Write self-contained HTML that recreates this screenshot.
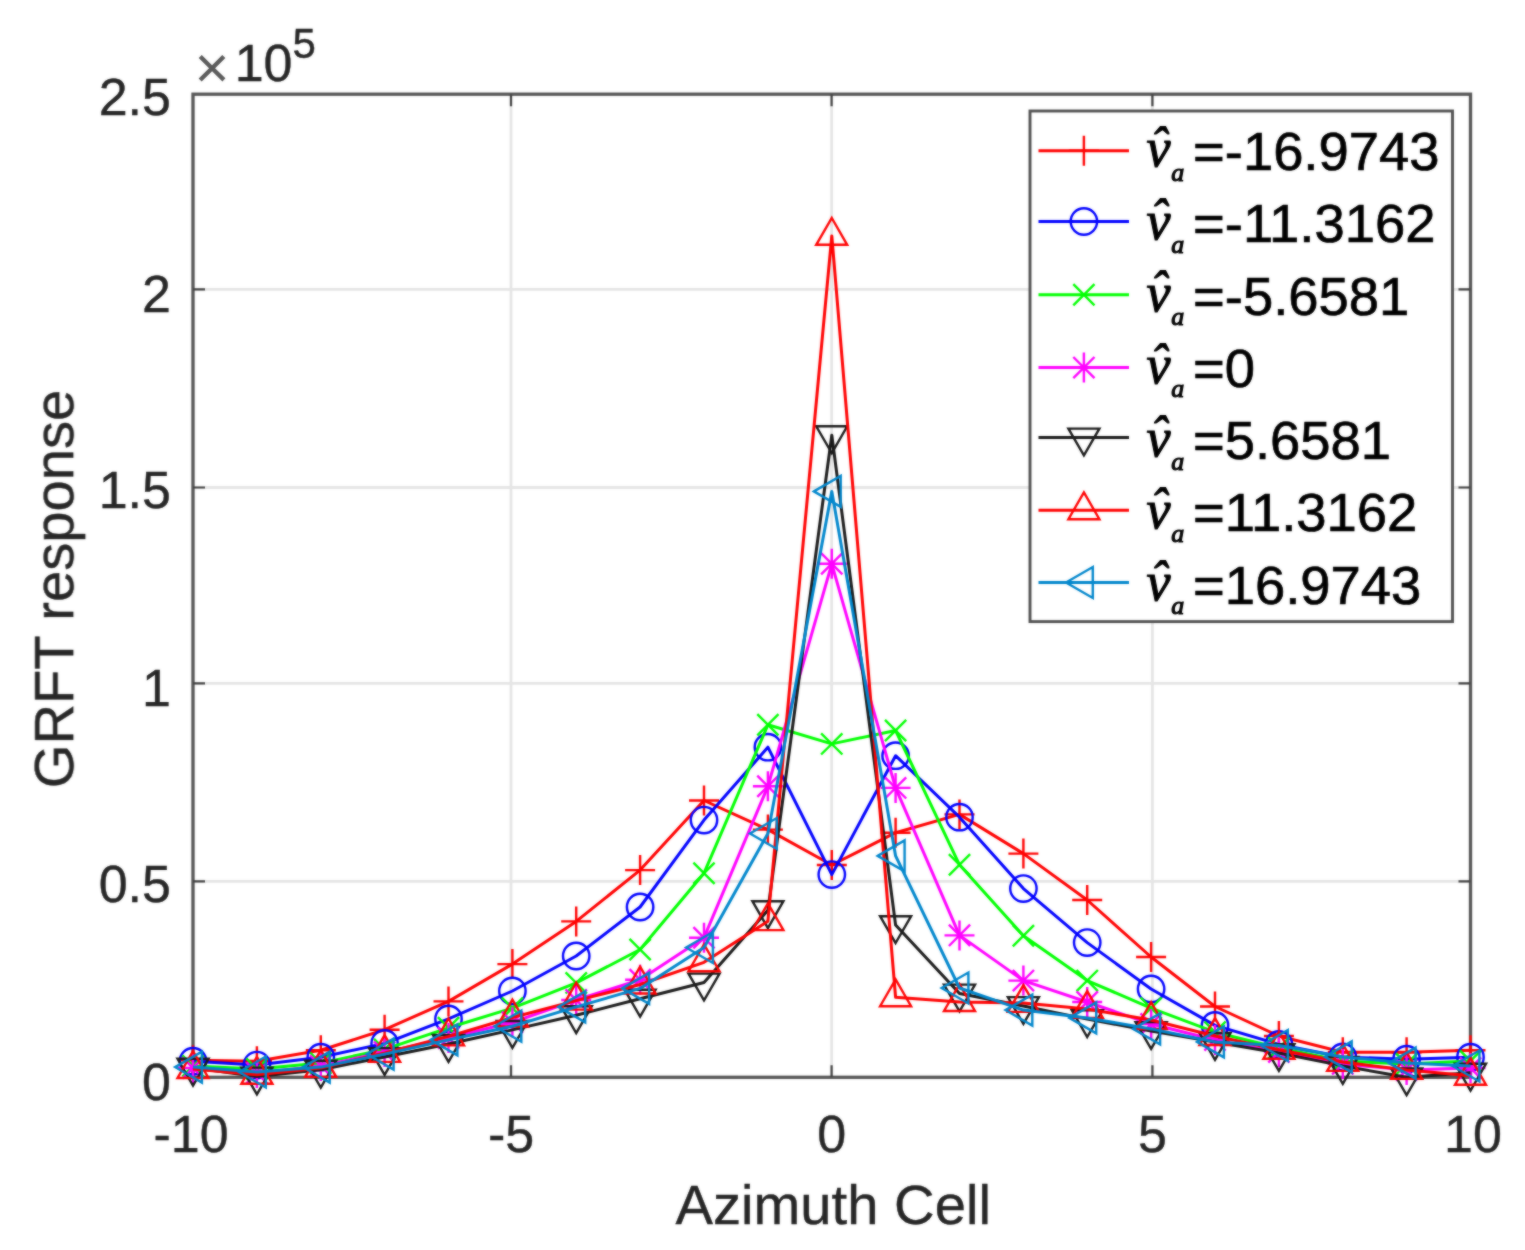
<!DOCTYPE html>
<html><head><meta charset="utf-8"><title>GRFT response</title>
<style>
html,body{margin:0;padding:0;background:#fff;}
body{width:1525px;height:1250px;overflow:hidden;}
svg{display:block;}
text{font-family:"Liberation Sans",Arial,sans-serif;}
.tk{font-size:52px;fill:#262626;stroke:#262626;stroke-width:0.4px;}
.lb{font-size:56.2px;fill:#262626;stroke:#262626;stroke-width:0.4px;}
.lg{font-size:54.4px;fill:#000;stroke:#000;stroke-width:0.7px;}
.mi{font-family:"Liberation Serif","Times New Roman",serif;font-style:italic;fill:#000;stroke:#000;stroke-width:1.1px;}
</style></head><body>
<svg width="1525" height="1250" viewBox="0 0 1525 1250">
<rect width="1525" height="1250" fill="#fff"/>
<defs><filter id="soft" color-interpolation-filters="sRGB" x="0" y="0" width="1525" height="1250" filterUnits="userSpaceOnUse"><feGaussianBlur stdDeviation="0.8" result="b"/><feComposite operator="arithmetic" in="SourceGraphic" in2="b" k1="0" k2="0.45" k3="0.55" k4="0"/></filter></defs>
<g filter="url(#soft)">

<path d="M511.0 94.2V1077.3M831.6 94.2V1077.3M1152.4 94.2V1077.3M193.0 289.3H1470.5M193.0 487.5H1470.5M193.0 683.3H1470.5M193.0 881.4H1470.5" stroke="#e5e5e5" stroke-width="2.8" fill="none"/>
<rect x="193.0" y="94.2" width="1277.5" height="983.0999999999999" fill="none" stroke="#555555" stroke-width="3.3"/>
<path d="M511.0 1077.3v-12M511.0 94.2v12M831.6 1077.3v-12M831.6 94.2v12M1152.4 1077.3v-12M1152.4 94.2v12M193.0 289.3h12M1470.5 289.3h-12M193.0 487.5h12M1470.5 487.5h-12M193.0 683.3h12M1470.5 683.3h-12M193.0 881.4h12M1470.5 881.4h-12" stroke="#404040" stroke-width="2.2" fill="none"/>
<polyline points="193.0,1060.2 256.9,1061.2 320.8,1050.3 384.6,1029.7 448.5,1001.4 512.4,964.1 576.2,921.4 640.1,870.1 704.0,800.5 767.9,829.6 831.8,865.0 895.6,832.7 959.5,814.4 1023.4,853.6 1087.2,900.0 1151.1,957.0 1215.0,1006.5 1278.9,1036.0 1342.8,1052.3 1406.6,1052.3 1470.5,1050.3" stroke="#ff0000" stroke-width="3.0" fill="none" stroke-linejoin="round"/>
<g><path d="M178.0 1060.2H208.0M193.0 1045.2V1075.2" stroke="#ff0000" stroke-width="2.4" fill="none"/><path d="M241.9 1061.2H271.9M256.9 1046.2V1076.2" stroke="#ff0000" stroke-width="2.4" fill="none"/><path d="M305.8 1050.3H335.8M320.8 1035.3V1065.3" stroke="#ff0000" stroke-width="2.4" fill="none"/><path d="M369.6 1029.7H399.6M384.6 1014.7V1044.7" stroke="#ff0000" stroke-width="2.4" fill="none"/><path d="M433.5 1001.4H463.5M448.5 986.4V1016.4" stroke="#ff0000" stroke-width="2.4" fill="none"/><path d="M497.4 964.1H527.4M512.4 949.1V979.1" stroke="#ff0000" stroke-width="2.4" fill="none"/><path d="M561.2 921.4H591.2M576.2 906.4V936.4" stroke="#ff0000" stroke-width="2.4" fill="none"/><path d="M625.1 870.1H655.1M640.1 855.1V885.1" stroke="#ff0000" stroke-width="2.4" fill="none"/><path d="M689.0 800.5H719.0M704.0 785.5V815.5" stroke="#ff0000" stroke-width="2.4" fill="none"/><path d="M752.9 829.6H782.9M767.9 814.6V844.6" stroke="#ff0000" stroke-width="2.4" fill="none"/><path d="M816.8 865.0H846.8M831.8 850.0V880.0" stroke="#ff0000" stroke-width="2.4" fill="none"/><path d="M880.6 832.7H910.6M895.6 817.7V847.7" stroke="#ff0000" stroke-width="2.4" fill="none"/><path d="M944.5 814.4H974.5M959.5 799.4V829.4" stroke="#ff0000" stroke-width="2.4" fill="none"/><path d="M1008.4 853.6H1038.4M1023.4 838.6V868.6" stroke="#ff0000" stroke-width="2.4" fill="none"/><path d="M1072.2 900.0H1102.2M1087.2 885.0V915.0" stroke="#ff0000" stroke-width="2.4" fill="none"/><path d="M1136.1 957.0H1166.1M1151.1 942.0V972.0" stroke="#ff0000" stroke-width="2.4" fill="none"/><path d="M1200.0 1006.5H1230.0M1215.0 991.5V1021.5" stroke="#ff0000" stroke-width="2.4" fill="none"/><path d="M1263.9 1036.0H1293.9M1278.9 1021.0V1051.0" stroke="#ff0000" stroke-width="2.4" fill="none"/><path d="M1327.8 1052.3H1357.8M1342.8 1037.3V1067.3" stroke="#ff0000" stroke-width="2.4" fill="none"/><path d="M1391.6 1052.3H1421.6M1406.6 1037.3V1067.3" stroke="#ff0000" stroke-width="2.4" fill="none"/><path d="M1455.5 1050.3H1485.5M1470.5 1035.3V1065.3" stroke="#ff0000" stroke-width="2.4" fill="none"/></g>
<polyline points="193.0,1061.2 256.9,1065.1 320.8,1057.2 384.6,1043.5 448.5,1018.9 512.4,991.0 576.2,956.0 640.1,907.0 704.0,820.1 767.9,747.2 831.8,874.6 895.6,755.7 959.5,817.2 1023.4,888.6 1087.2,942.6 1151.1,989.0 1215.0,1025.4 1278.9,1044.4 1342.8,1057.0 1406.6,1059.2 1470.5,1057.2" stroke="#0000ff" stroke-width="3.0" fill="none" stroke-linejoin="round"/>
<g><circle cx="193.0" cy="1061.2" r="13.2" stroke="#0000ff" stroke-width="2.4" fill="none"/><circle cx="256.9" cy="1065.1" r="13.2" stroke="#0000ff" stroke-width="2.4" fill="none"/><circle cx="320.8" cy="1057.2" r="13.2" stroke="#0000ff" stroke-width="2.4" fill="none"/><circle cx="384.6" cy="1043.5" r="13.2" stroke="#0000ff" stroke-width="2.4" fill="none"/><circle cx="448.5" cy="1018.9" r="13.2" stroke="#0000ff" stroke-width="2.4" fill="none"/><circle cx="512.4" cy="991.0" r="13.2" stroke="#0000ff" stroke-width="2.4" fill="none"/><circle cx="576.2" cy="956.0" r="13.2" stroke="#0000ff" stroke-width="2.4" fill="none"/><circle cx="640.1" cy="907.0" r="13.2" stroke="#0000ff" stroke-width="2.4" fill="none"/><circle cx="704.0" cy="820.1" r="13.2" stroke="#0000ff" stroke-width="2.4" fill="none"/><circle cx="767.9" cy="747.2" r="13.2" stroke="#0000ff" stroke-width="2.4" fill="none"/><circle cx="831.8" cy="874.6" r="13.2" stroke="#0000ff" stroke-width="2.4" fill="none"/><circle cx="895.6" cy="755.7" r="13.2" stroke="#0000ff" stroke-width="2.4" fill="none"/><circle cx="959.5" cy="817.2" r="13.2" stroke="#0000ff" stroke-width="2.4" fill="none"/><circle cx="1023.4" cy="888.6" r="13.2" stroke="#0000ff" stroke-width="2.4" fill="none"/><circle cx="1087.2" cy="942.6" r="13.2" stroke="#0000ff" stroke-width="2.4" fill="none"/><circle cx="1151.1" cy="989.0" r="13.2" stroke="#0000ff" stroke-width="2.4" fill="none"/><circle cx="1215.0" cy="1025.4" r="13.2" stroke="#0000ff" stroke-width="2.4" fill="none"/><circle cx="1278.9" cy="1044.4" r="13.2" stroke="#0000ff" stroke-width="2.4" fill="none"/><circle cx="1342.8" cy="1057.0" r="13.2" stroke="#0000ff" stroke-width="2.4" fill="none"/><circle cx="1406.6" cy="1059.2" r="13.2" stroke="#0000ff" stroke-width="2.4" fill="none"/><circle cx="1470.5" cy="1057.2" r="13.2" stroke="#0000ff" stroke-width="2.4" fill="none"/></g>
<polyline points="193.0,1066.0 256.9,1069.0 320.8,1063.1 384.6,1049.4 448.5,1027.8 512.4,1008.1 576.2,982.9 640.1,949.5 704.0,873.2 767.9,724.8 831.8,743.9 895.6,730.5 959.5,864.8 1023.4,935.7 1087.2,980.6 1151.1,1008.1 1215.0,1032.1 1278.9,1048.0 1342.8,1061.0 1406.6,1063.9 1470.5,1061.0" stroke="#00ff00" stroke-width="3.0" fill="none" stroke-linejoin="round"/>
<g><path d="M182.4 1055.4L203.6 1076.6M182.4 1076.6L203.6 1055.4" stroke="#00ff00" stroke-width="2.4" fill="none"/><path d="M246.3 1058.4L267.5 1079.6M246.3 1079.6L267.5 1058.4" stroke="#00ff00" stroke-width="2.4" fill="none"/><path d="M310.1 1052.5L331.4 1073.8M310.1 1073.8L331.4 1052.5" stroke="#00ff00" stroke-width="2.4" fill="none"/><path d="M374.0 1038.8L395.2 1060.0M374.0 1060.0L395.2 1038.8" stroke="#00ff00" stroke-width="2.4" fill="none"/><path d="M437.9 1017.2L459.1 1038.4M437.9 1038.4L459.1 1017.2" stroke="#00ff00" stroke-width="2.4" fill="none"/><path d="M501.8 997.5L523.0 1018.7M501.8 1018.7L523.0 997.5" stroke="#00ff00" stroke-width="2.4" fill="none"/><path d="M565.6 972.3L586.9 993.5M565.6 993.5L586.9 972.3" stroke="#00ff00" stroke-width="2.4" fill="none"/><path d="M629.5 938.9L650.7 960.1M629.5 960.1L650.7 938.9" stroke="#00ff00" stroke-width="2.4" fill="none"/><path d="M693.4 862.6L714.6 883.8M693.4 883.8L714.6 862.6" stroke="#00ff00" stroke-width="2.4" fill="none"/><path d="M757.3 714.2L778.5 735.4M757.3 735.4L778.5 714.2" stroke="#00ff00" stroke-width="2.4" fill="none"/><path d="M821.1 733.3L842.4 754.5M821.1 754.5L842.4 733.3" stroke="#00ff00" stroke-width="2.4" fill="none"/><path d="M885.0 719.9L906.2 741.1M885.0 741.1L906.2 719.9" stroke="#00ff00" stroke-width="2.4" fill="none"/><path d="M948.9 854.2L970.1 875.4M948.9 875.4L970.1 854.2" stroke="#00ff00" stroke-width="2.4" fill="none"/><path d="M1012.8 925.1L1034.0 946.4M1012.8 946.4L1034.0 925.1" stroke="#00ff00" stroke-width="2.4" fill="none"/><path d="M1076.6 970.0L1097.9 991.2M1076.6 991.2L1097.9 970.0" stroke="#00ff00" stroke-width="2.4" fill="none"/><path d="M1140.5 997.5L1161.7 1018.7M1140.5 1018.7L1161.7 997.5" stroke="#00ff00" stroke-width="2.4" fill="none"/><path d="M1204.4 1021.5L1225.6 1042.7M1204.4 1042.7L1225.6 1021.5" stroke="#00ff00" stroke-width="2.4" fill="none"/><path d="M1268.3 1037.4L1289.5 1058.6M1268.3 1058.6L1289.5 1037.4" stroke="#00ff00" stroke-width="2.4" fill="none"/><path d="M1332.1 1050.4L1353.4 1071.6M1332.1 1071.6L1353.4 1050.4" stroke="#00ff00" stroke-width="2.4" fill="none"/><path d="M1396.0 1053.3L1417.2 1074.5M1396.0 1074.5L1417.2 1053.3" stroke="#00ff00" stroke-width="2.4" fill="none"/><path d="M1459.9 1050.4L1481.1 1071.6M1459.9 1071.6L1481.1 1050.4" stroke="#00ff00" stroke-width="2.4" fill="none"/></g>
<polyline points="193.0,1068.0 256.9,1073.0 320.8,1065.9 384.6,1052.1 448.5,1038.0 512.4,1022.3 576.2,1000.0 640.1,979.8 704.0,937.7 767.9,786.3 831.8,563.8 895.6,787.9 959.5,935.4 1023.4,980.6 1087.2,1002.0 1151.1,1024.0 1215.0,1039.9 1278.9,1052.1 1342.8,1063.9 1406.6,1070.0 1470.5,1068.0" stroke="#ff00ff" stroke-width="3.0" fill="none" stroke-linejoin="round"/>
<g><path d="M178.0 1068.0H208.0M193.0 1053.0V1083.0M182.4 1057.4L203.6 1078.6M182.4 1078.6L203.6 1057.4" stroke="#ff00ff" stroke-width="2.4" fill="none"/><path d="M241.9 1073.0H271.9M256.9 1058.0V1088.0M246.3 1062.4L267.5 1083.6M246.3 1083.6L267.5 1062.4" stroke="#ff00ff" stroke-width="2.4" fill="none"/><path d="M305.8 1065.9H335.8M320.8 1050.9V1080.9M310.1 1055.3L331.4 1076.5M310.1 1076.5L331.4 1055.3" stroke="#ff00ff" stroke-width="2.4" fill="none"/><path d="M369.6 1052.1H399.6M384.6 1037.1V1067.1M374.0 1041.5L395.2 1062.7M374.0 1062.7L395.2 1041.5" stroke="#ff00ff" stroke-width="2.4" fill="none"/><path d="M433.5 1038.0H463.5M448.5 1023.0V1053.0M437.9 1027.4L459.1 1048.6M437.9 1048.6L459.1 1027.4" stroke="#ff00ff" stroke-width="2.4" fill="none"/><path d="M497.4 1022.3H527.4M512.4 1007.3V1037.3M501.8 1011.6L523.0 1032.9M501.8 1032.9L523.0 1011.6" stroke="#ff00ff" stroke-width="2.4" fill="none"/><path d="M561.2 1000.0H591.2M576.2 985.0V1015.0M565.6 989.4L586.9 1010.6M565.6 1010.6L586.9 989.4" stroke="#ff00ff" stroke-width="2.4" fill="none"/><path d="M625.1 979.8H655.1M640.1 964.8V994.8M629.5 969.2L650.7 990.4M629.5 990.4L650.7 969.2" stroke="#ff00ff" stroke-width="2.4" fill="none"/><path d="M689.0 937.7H719.0M704.0 922.7V952.7M693.4 927.1L714.6 948.3M693.4 948.3L714.6 927.1" stroke="#ff00ff" stroke-width="2.4" fill="none"/><path d="M752.9 786.3H782.9M767.9 771.3V801.3M757.3 775.7L778.5 796.9M757.3 796.9L778.5 775.7" stroke="#ff00ff" stroke-width="2.4" fill="none"/><path d="M816.8 563.8H846.8M831.8 548.8V578.8M821.1 553.2L842.4 574.4M821.1 574.4L842.4 553.2" stroke="#ff00ff" stroke-width="2.4" fill="none"/><path d="M880.6 787.9H910.6M895.6 772.9V802.9M885.0 777.3L906.2 798.5M885.0 798.5L906.2 777.3" stroke="#ff00ff" stroke-width="2.4" fill="none"/><path d="M944.5 935.4H974.5M959.5 920.4V950.4M948.9 924.7L970.1 946.0M948.9 946.0L970.1 924.7" stroke="#ff00ff" stroke-width="2.4" fill="none"/><path d="M1008.4 980.6H1038.4M1023.4 965.6V995.6M1012.8 970.0L1034.0 991.2M1012.8 991.2L1034.0 970.0" stroke="#ff00ff" stroke-width="2.4" fill="none"/><path d="M1072.2 1002.0H1102.2M1087.2 987.0V1017.0M1076.6 991.4L1097.9 1012.6M1076.6 1012.6L1097.9 991.4" stroke="#ff00ff" stroke-width="2.4" fill="none"/><path d="M1136.1 1024.0H1166.1M1151.1 1009.0V1039.0M1140.5 1013.4L1161.7 1034.6M1140.5 1034.6L1161.7 1013.4" stroke="#ff00ff" stroke-width="2.4" fill="none"/><path d="M1200.0 1039.9H1230.0M1215.0 1024.9V1054.9M1204.4 1029.3L1225.6 1050.6M1204.4 1050.6L1225.6 1029.3" stroke="#ff00ff" stroke-width="2.4" fill="none"/><path d="M1263.9 1052.1H1293.9M1278.9 1037.1V1067.1M1268.3 1041.5L1289.5 1062.7M1268.3 1062.7L1289.5 1041.5" stroke="#ff00ff" stroke-width="2.4" fill="none"/><path d="M1327.8 1063.9H1357.8M1342.8 1048.9V1078.9M1332.1 1053.3L1353.4 1074.5M1332.1 1074.5L1353.4 1053.3" stroke="#ff00ff" stroke-width="2.4" fill="none"/><path d="M1391.6 1070.0H1421.6M1406.6 1055.0V1085.0M1396.0 1059.4L1417.2 1080.6M1396.0 1080.6L1417.2 1059.4" stroke="#ff00ff" stroke-width="2.4" fill="none"/><path d="M1455.5 1068.0H1485.5M1470.5 1053.0V1083.0M1459.9 1057.4L1481.1 1078.6M1459.9 1078.6L1481.1 1057.4" stroke="#ff00ff" stroke-width="2.4" fill="none"/></g>
<polyline points="193.0,1067.7 256.9,1076.5 320.8,1069.7 384.6,1057.0 448.5,1044.0 512.4,1029.9 576.2,1015.2 640.1,998.7 704.0,982.5 767.9,910.2 831.8,435.2 895.6,925.1 959.5,993.5 1023.4,1006.0 1087.2,1019.1 1151.1,1031.0 1215.0,1041.9 1278.9,1053.0 1342.8,1065.9 1406.6,1077.3 1470.5,1072.7" stroke="#1a1a1a" stroke-width="3.0" fill="none" stroke-linejoin="round"/>
<g><path d="M193.0 1085.6L208.5 1058.8H177.5Z" stroke="#1a1a1a" stroke-width="2.4" fill="none" stroke-linejoin="miter"/><path d="M256.9 1094.4L272.4 1067.6H241.4Z" stroke="#1a1a1a" stroke-width="2.4" fill="none" stroke-linejoin="miter"/><path d="M320.8 1087.6L336.2 1060.8H305.2Z" stroke="#1a1a1a" stroke-width="2.4" fill="none" stroke-linejoin="miter"/><path d="M384.6 1074.9L400.1 1048.1H369.1Z" stroke="#1a1a1a" stroke-width="2.4" fill="none" stroke-linejoin="miter"/><path d="M448.5 1061.9L464.0 1035.0H433.0Z" stroke="#1a1a1a" stroke-width="2.4" fill="none" stroke-linejoin="miter"/><path d="M512.4 1047.8L527.9 1021.0H496.9Z" stroke="#1a1a1a" stroke-width="2.4" fill="none" stroke-linejoin="miter"/><path d="M576.2 1033.1L591.8 1006.2H560.8Z" stroke="#1a1a1a" stroke-width="2.4" fill="none" stroke-linejoin="miter"/><path d="M640.1 1016.6L655.6 989.7H624.6Z" stroke="#1a1a1a" stroke-width="2.4" fill="none" stroke-linejoin="miter"/><path d="M704.0 1000.4L719.5 973.6H688.5Z" stroke="#1a1a1a" stroke-width="2.4" fill="none" stroke-linejoin="miter"/><path d="M767.9 928.1L783.4 901.2H752.4Z" stroke="#1a1a1a" stroke-width="2.4" fill="none" stroke-linejoin="miter"/><path d="M831.8 453.1L847.2 426.3H816.2Z" stroke="#1a1a1a" stroke-width="2.4" fill="none" stroke-linejoin="miter"/><path d="M895.6 943.0L911.1 916.2H880.1Z" stroke="#1a1a1a" stroke-width="2.4" fill="none" stroke-linejoin="miter"/><path d="M959.5 1011.4L975.0 984.6H944.0Z" stroke="#1a1a1a" stroke-width="2.4" fill="none" stroke-linejoin="miter"/><path d="M1023.4 1023.9L1038.9 997.1H1007.9Z" stroke="#1a1a1a" stroke-width="2.4" fill="none" stroke-linejoin="miter"/><path d="M1087.2 1037.0L1102.8 1010.2H1071.8Z" stroke="#1a1a1a" stroke-width="2.4" fill="none" stroke-linejoin="miter"/><path d="M1151.1 1048.9L1166.6 1022.1H1135.6Z" stroke="#1a1a1a" stroke-width="2.4" fill="none" stroke-linejoin="miter"/><path d="M1215.0 1059.8L1230.5 1033.0H1199.5Z" stroke="#1a1a1a" stroke-width="2.4" fill="none" stroke-linejoin="miter"/><path d="M1278.9 1070.9L1294.4 1044.1H1263.4Z" stroke="#1a1a1a" stroke-width="2.4" fill="none" stroke-linejoin="miter"/><path d="M1342.8 1083.8L1358.2 1056.9H1327.2Z" stroke="#1a1a1a" stroke-width="2.4" fill="none" stroke-linejoin="miter"/><path d="M1406.6 1095.2L1422.1 1068.4H1391.1Z" stroke="#1a1a1a" stroke-width="2.4" fill="none" stroke-linejoin="miter"/><path d="M1470.5 1090.6L1486.0 1063.8H1455.0Z" stroke="#1a1a1a" stroke-width="2.4" fill="none" stroke-linejoin="miter"/></g>
<polyline points="193.0,1069.0 256.9,1074.8 320.8,1068.0 384.6,1053.0 448.5,1036.4 512.4,1017.5 576.2,1000.6 640.1,984.5 704.0,962.3 767.9,921.2 831.8,235.9 895.6,997.3 959.5,1002.0 1023.4,1003.0 1087.2,1009.0 1151.1,1020.0 1215.0,1036.0 1278.9,1049.8 1342.8,1062.0 1406.6,1070.0 1470.5,1075.7" stroke="#ff0000" stroke-width="3.0" fill="none" stroke-linejoin="round"/>
<g><path d="M193.0 1051.1L208.5 1078.0H177.5Z" stroke="#ff0000" stroke-width="2.4" fill="none" stroke-linejoin="miter"/><path d="M256.9 1056.9L272.4 1083.7H241.4Z" stroke="#ff0000" stroke-width="2.4" fill="none" stroke-linejoin="miter"/><path d="M320.8 1050.1L336.2 1076.9H305.2Z" stroke="#ff0000" stroke-width="2.4" fill="none" stroke-linejoin="miter"/><path d="M384.6 1035.1L400.1 1061.9H369.1Z" stroke="#ff0000" stroke-width="2.4" fill="none" stroke-linejoin="miter"/><path d="M448.5 1018.5L464.0 1045.4H433.0Z" stroke="#ff0000" stroke-width="2.4" fill="none" stroke-linejoin="miter"/><path d="M512.4 999.6L527.9 1026.5H496.9Z" stroke="#ff0000" stroke-width="2.4" fill="none" stroke-linejoin="miter"/><path d="M576.2 982.7L591.8 1009.6H560.8Z" stroke="#ff0000" stroke-width="2.4" fill="none" stroke-linejoin="miter"/><path d="M640.1 966.6L655.6 993.5H624.6Z" stroke="#ff0000" stroke-width="2.4" fill="none" stroke-linejoin="miter"/><path d="M704.0 944.4L719.5 971.2H688.5Z" stroke="#ff0000" stroke-width="2.4" fill="none" stroke-linejoin="miter"/><path d="M767.9 903.3L783.4 930.1H752.4Z" stroke="#ff0000" stroke-width="2.4" fill="none" stroke-linejoin="miter"/><path d="M831.8 218.0L847.2 244.8H816.2Z" stroke="#ff0000" stroke-width="2.4" fill="none" stroke-linejoin="miter"/><path d="M895.6 979.4L911.1 1006.2H880.1Z" stroke="#ff0000" stroke-width="2.4" fill="none" stroke-linejoin="miter"/><path d="M959.5 984.1L975.0 1011.0H944.0Z" stroke="#ff0000" stroke-width="2.4" fill="none" stroke-linejoin="miter"/><path d="M1023.4 985.1L1038.9 1011.9H1007.9Z" stroke="#ff0000" stroke-width="2.4" fill="none" stroke-linejoin="miter"/><path d="M1087.2 991.1L1102.8 1017.9H1071.8Z" stroke="#ff0000" stroke-width="2.4" fill="none" stroke-linejoin="miter"/><path d="M1151.1 1002.1L1166.6 1029.0H1135.6Z" stroke="#ff0000" stroke-width="2.4" fill="none" stroke-linejoin="miter"/><path d="M1215.0 1018.1L1230.5 1045.0H1199.5Z" stroke="#ff0000" stroke-width="2.4" fill="none" stroke-linejoin="miter"/><path d="M1278.9 1031.9L1294.4 1058.7H1263.4Z" stroke="#ff0000" stroke-width="2.4" fill="none" stroke-linejoin="miter"/><path d="M1342.8 1044.1L1358.2 1070.9H1327.2Z" stroke="#ff0000" stroke-width="2.4" fill="none" stroke-linejoin="miter"/><path d="M1406.6 1052.1L1422.1 1078.9H1391.1Z" stroke="#ff0000" stroke-width="2.4" fill="none" stroke-linejoin="miter"/><path d="M1470.5 1057.8L1486.0 1084.7H1455.0Z" stroke="#ff0000" stroke-width="2.4" fill="none" stroke-linejoin="miter"/></g>
<polyline points="193.0,1067.1 256.9,1072.0 320.8,1067.1 384.6,1054.1 448.5,1039.9 512.4,1026.2 576.2,1006.9 640.1,988.4 704.0,947.5 767.9,833.5 831.8,491.4 895.6,855.9 959.5,988.0 1023.4,1010.1 1087.2,1017.9 1151.1,1028.9 1215.0,1041.9 1278.9,1045.5 1342.8,1056.9 1406.6,1063.1 1470.5,1066.0" stroke="#0086cc" stroke-width="3.0" fill="none" stroke-linejoin="round"/>
<g><path d="M175.1 1067.1L201.9 1051.6V1082.6Z" stroke="#0086cc" stroke-width="2.4" fill="none" stroke-linejoin="miter"/><path d="M239.0 1072.0L265.8 1056.5V1087.5Z" stroke="#0086cc" stroke-width="2.4" fill="none" stroke-linejoin="miter"/><path d="M302.9 1067.1L329.7 1051.6V1082.6Z" stroke="#0086cc" stroke-width="2.4" fill="none" stroke-linejoin="miter"/><path d="M366.7 1054.1L393.6 1038.6V1069.6Z" stroke="#0086cc" stroke-width="2.4" fill="none" stroke-linejoin="miter"/><path d="M430.6 1039.9L457.4 1024.4V1055.4Z" stroke="#0086cc" stroke-width="2.4" fill="none" stroke-linejoin="miter"/><path d="M494.5 1026.2L521.3 1010.7V1041.7Z" stroke="#0086cc" stroke-width="2.4" fill="none" stroke-linejoin="miter"/><path d="M558.4 1006.9L585.2 991.4V1022.4Z" stroke="#0086cc" stroke-width="2.4" fill="none" stroke-linejoin="miter"/><path d="M622.2 988.4L649.1 972.9V1003.9Z" stroke="#0086cc" stroke-width="2.4" fill="none" stroke-linejoin="miter"/><path d="M686.1 947.5L712.9 932.0V963.0Z" stroke="#0086cc" stroke-width="2.4" fill="none" stroke-linejoin="miter"/><path d="M750.0 833.5L776.8 818.0V849.0Z" stroke="#0086cc" stroke-width="2.4" fill="none" stroke-linejoin="miter"/><path d="M813.9 491.4L840.7 475.9V506.9Z" stroke="#0086cc" stroke-width="2.4" fill="none" stroke-linejoin="miter"/><path d="M877.7 855.9L904.6 840.4V871.4Z" stroke="#0086cc" stroke-width="2.4" fill="none" stroke-linejoin="miter"/><path d="M941.6 988.0L968.4 972.5V1003.5Z" stroke="#0086cc" stroke-width="2.4" fill="none" stroke-linejoin="miter"/><path d="M1005.5 1010.1L1032.3 994.6V1025.6Z" stroke="#0086cc" stroke-width="2.4" fill="none" stroke-linejoin="miter"/><path d="M1069.4 1017.9L1096.2 1002.4V1033.4Z" stroke="#0086cc" stroke-width="2.4" fill="none" stroke-linejoin="miter"/><path d="M1133.2 1028.9L1160.1 1013.4V1044.4Z" stroke="#0086cc" stroke-width="2.4" fill="none" stroke-linejoin="miter"/><path d="M1197.1 1041.9L1223.9 1026.4V1057.4Z" stroke="#0086cc" stroke-width="2.4" fill="none" stroke-linejoin="miter"/><path d="M1261.0 1045.5L1287.8 1030.0V1061.0Z" stroke="#0086cc" stroke-width="2.4" fill="none" stroke-linejoin="miter"/><path d="M1324.9 1056.9L1351.7 1041.4V1072.4Z" stroke="#0086cc" stroke-width="2.4" fill="none" stroke-linejoin="miter"/><path d="M1388.7 1063.1L1415.6 1047.6V1078.6Z" stroke="#0086cc" stroke-width="2.4" fill="none" stroke-linejoin="miter"/><path d="M1452.6 1066.0L1479.4 1050.5V1081.5Z" stroke="#0086cc" stroke-width="2.4" fill="none" stroke-linejoin="miter"/></g>
<text class="tk" x="191" y="1152" text-anchor="middle">-10</text>
<text class="tk" x="511" y="1152" text-anchor="middle">-5</text>
<text class="tk" x="831.6" y="1152" text-anchor="middle">0</text>
<text class="tk" x="1152.4" y="1152" text-anchor="middle">5</text>
<text class="tk" x="1473" y="1152" text-anchor="middle">10</text>
<text class="tk" x="171" y="115.3" text-anchor="end">2.5</text>
<text class="tk" x="171" y="312.3" text-anchor="end">2</text>
<text class="tk" x="171" y="508.2" text-anchor="end">1.5</text>
<text class="tk" x="171" y="705.9" text-anchor="end">1</text>
<text class="tk" x="171" y="901.7" text-anchor="end">0.5</text>
<text class="tk" x="171" y="1100.0" text-anchor="end">0</text>
<text class="tk" x="194.6" y="88.3" style="font-size:60px;fill:#5a5a5a;stroke:none">×</text>
<text class="tk" x="234.7" y="80.5">10<tspan font-size="42" dy="-22.5">5</tspan></text>
<text class="lb" x="833.2" y="1224" text-anchor="middle">Azimuth Cell</text>
<text class="lb" transform="translate(73.2 589) rotate(-90)" text-anchor="middle">GRFT response</text>
<rect x="1030" y="111" width="422.5" height="510.6" fill="#fff" stroke="#505050" stroke-width="2.9"/>
<path d="M1038.5 150.7H1129" stroke="#ff0000" stroke-width="3.0"/>
<path d="M1068.9 150.7H1098.9M1083.9 135.7V165.7" stroke="#ff0000" stroke-width="2.4" fill="none"/>
<text class="mi" x="1146.6" y="166.3" font-size="54">v</text>
<text class="mi" x="1150.2" y="161.7" font-size="50" font-style="normal">ˆ</text>
<text class="mi" x="1171.2" y="180.5" font-size="26">a</text>
<text class="lg" x="1193" y="169.9">=-16.9743</text>
<path d="M1038.5 221.5H1129" stroke="#0000ff" stroke-width="3.0"/>
<circle cx="1083.9" cy="221.5" r="13.2" stroke="#0000ff" stroke-width="2.4" fill="none"/>
<text class="mi" x="1146.6" y="238.6" font-size="54">v</text>
<text class="mi" x="1150.2" y="234.0" font-size="50" font-style="normal">ˆ</text>
<text class="mi" x="1171.2" y="252.8" font-size="26">a</text>
<text class="lg" x="1193" y="242.2">=-11.3162</text>
<path d="M1038.5 294.8H1129" stroke="#00ff00" stroke-width="3.0"/>
<path d="M1073.3 284.2L1094.5 305.4M1073.3 305.4L1094.5 284.2" stroke="#00ff00" stroke-width="2.4" fill="none"/>
<text class="mi" x="1146.6" y="310.9" font-size="54">v</text>
<text class="mi" x="1150.2" y="306.3" font-size="50" font-style="normal">ˆ</text>
<text class="mi" x="1171.2" y="325.1" font-size="26">a</text>
<text class="lg" x="1193" y="314.5">=-5.6581</text>
<path d="M1038.5 367.6H1129" stroke="#ff00ff" stroke-width="3.0"/>
<path d="M1068.9 367.6H1098.9M1083.9 352.6V382.6M1073.3 357.0L1094.5 378.2M1073.3 378.2L1094.5 357.0" stroke="#ff00ff" stroke-width="2.4" fill="none"/>
<text class="mi" x="1146.6" y="383.2" font-size="54">v</text>
<text class="mi" x="1150.2" y="378.6" font-size="50" font-style="normal">ˆ</text>
<text class="mi" x="1171.2" y="397.4" font-size="26">a</text>
<text class="lg" x="1193" y="386.8">=0</text>
<path d="M1038.5 437.5H1129" stroke="#1a1a1a" stroke-width="3.0"/>
<path d="M1083.9 455.4L1099.4 428.6H1068.4Z" stroke="#1a1a1a" stroke-width="2.4" fill="none" stroke-linejoin="miter"/>
<text class="mi" x="1146.6" y="455.5" font-size="54">v</text>
<text class="mi" x="1150.2" y="450.9" font-size="50" font-style="normal">ˆ</text>
<text class="mi" x="1171.2" y="469.7" font-size="26">a</text>
<text class="lg" x="1193" y="459.1">=5.6581</text>
<path d="M1038.5 510.3H1129" stroke="#ff0000" stroke-width="3.0"/>
<path d="M1083.9 492.4L1099.4 519.2H1068.4Z" stroke="#ff0000" stroke-width="2.4" fill="none" stroke-linejoin="miter"/>
<text class="mi" x="1146.6" y="527.8" font-size="54">v</text>
<text class="mi" x="1150.2" y="523.2" font-size="50" font-style="normal">ˆ</text>
<text class="mi" x="1171.2" y="542.0" font-size="26">a</text>
<text class="lg" x="1193" y="531.4">=11.3162</text>
<path d="M1038.5 582.5H1129" stroke="#0086cc" stroke-width="3.0"/>
<path d="M1066.0 582.5L1092.8 567.0V598.0Z" stroke="#0086cc" stroke-width="2.4" fill="none" stroke-linejoin="miter"/>
<text class="mi" x="1146.6" y="600.1" font-size="54">v</text>
<text class="mi" x="1150.2" y="595.5" font-size="50" font-style="normal">ˆ</text>
<text class="mi" x="1171.2" y="614.3" font-size="26">a</text>
<text class="lg" x="1193" y="603.7">=16.9743</text>
</g></svg></body></html>
